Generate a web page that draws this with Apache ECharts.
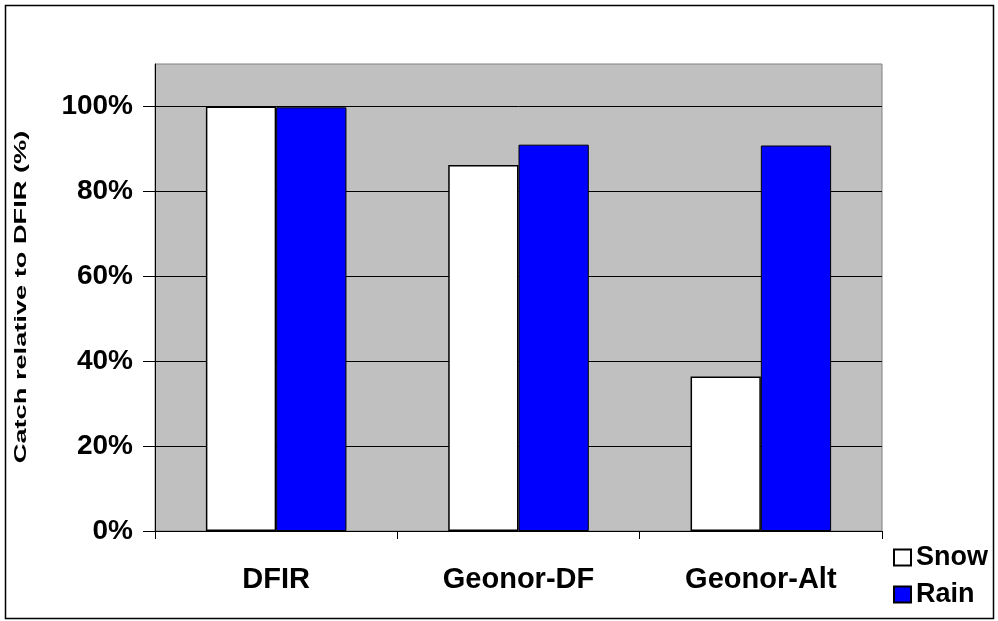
<!DOCTYPE html>
<html>
<head>
<meta charset="utf-8">
<script src="https://cdn.jsdelivr.net/npm/echarts@6/dist/echarts.min.js"></script>
<style>
  html, body { margin: 0; padding: 0; background: #fff; }
  #chart { width: 998px; height: 621px; }
</style>
</head>
<body>
<div id="chart"></div>
<script>
// data
var categories = ['DFIR', 'Geonor-DF', 'Geonor-Alt'];
var snow = [100, 86.2, 36.4];
var rain = [99.8, 91.0, 90.8];
var yTicks = [0, 20, 40, 60, 80, 100];
var yTitle = 'Catch relative to DFIR (%)';

var FONT = '"Liberation Sans", Arial, sans-serif';

var chart = echarts.init(document.getElementById('chart'));

var option = {
    animation: false,
    backgroundColor: '#fff',
    graphic: [
        {
            // outer frame
            type: 'rect',
            shape: { x: 5.5, y: 5.5, width: 988, height: 613 },
            style: { fill: 'none', stroke: '#000', lineWidth: 1.5 },
            z: 100
        },
        {
            // y title, stretched along its length like the original
            type: 'text',
            x: 22, y: 297,
            rotation: Math.PI / 2,
            scaleX: 1.7,
            style: {
                text: yTitle,
                font: 'bold 16px ' + FONT,
                fill: '#000',
                textAlign: 'center',
                textVerticalAlign: 'middle'
            }
        }
    ],
    grid: {
        left: 155, right: 116, top: 64, bottom: 90,
        show: true,
        backgroundColor: '#c0c0c0',
        borderColor: '#808080',
        borderWidth: 1
    },
    legend: {
        orient: 'vertical',
        left: 888,
        top: 539,
        itemWidth: 17,
        itemHeight: 16,
        itemGap: 10,
        icon: 'rect',
        textStyle: { fontFamily: FONT, fontWeight: 'bold', fontSize: 27, color: '#000' },
        data: ['Snow', 'Rain']
    },
    xAxis: {
        type: 'category',
        data: categories,
        axisLine: { lineStyle: { color: '#000', width: 1 } },
        axisTick: { show: true, length: 8, lineStyle: { color: '#000' } },
        axisLabel: { fontFamily: FONT, fontWeight: 'bold', fontSize: 29, color: '#000', margin: 34 }
    },
    yAxis: {
        type: 'value',
        min: 0,
        max: 110,
        interval: 20,
        axisLine: { show: true, lineStyle: { color: '#000', width: 1 } },
        axisTick: { show: true, length: 12, customValues: yTicks, lineStyle: { color: '#000' } },
        axisLabel: {
            fontFamily: FONT, fontWeight: 'bold', fontSize: 28, color: '#000', margin: 22,
            customValues: yTicks,
            formatter: function (v) { return v + '%'; }
        },
        splitLine: {
            show: true,
            lineStyle: { color: ['#000', '#000', '#000', '#000', '#000', '#000', '#808080'], width: 1 }
        }
    },
    series: [
        {
            name: 'Snow',
            type: 'bar',
            data: snow,
            barGap: '0%',
            barCategoryGap: '42%',
            itemStyle: { color: '#fff', borderColor: '#000', borderWidth: 1.5 }
        },
        {
            name: 'Rain',
            type: 'bar',
            data: rain,
            barGap: '0%',
            barCategoryGap: '42%',
            itemStyle: { color: '#0000ff', borderColor: '#000', borderWidth: 1 }
        }
    ]
};

chart.setOption(option);
</script>
</body>
</html>
